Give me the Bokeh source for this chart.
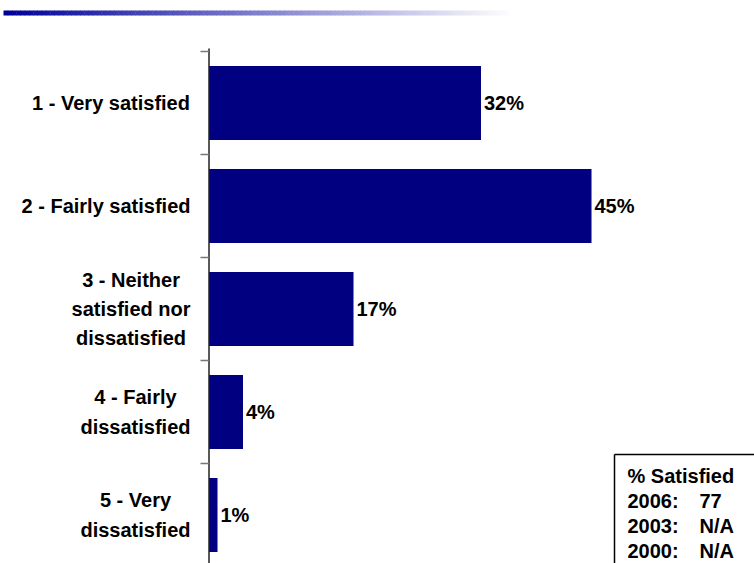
from bokeh.plotting import figure
from bokeh.models import Range1d, ColumnDataSource
from bokeh.core.properties import value
from bokeh.embed import file_html
from bokeh.resources import INLINE

# ---- data ----
categories = ["1 - Very satisfied", "2 - Fairly satisfied",
              "3 - Neither\nsatisfied nor\ndissatisfied",
              "4 - Fairly\ndissatisfied", "5 - Very\ndissatisfied"]
values = [32, 45, 17, 4, 1]
box_title = "% Satisfied"
box_years = ["2006:", "2003:", "2000:"]
box_values = ["77", "N/A", "N/A"]

# ---- layout helpers (pixel geometry) ----
W, H = 754, 563
AX0 = 208.5      # pixel of x = 0
PPU = 8.5        # pixels per percent
TOP = 51.0       # pixel of top band edge
BAND = 103.0     # pixels per category band
FONT = "Liberation Sans"
FS = 20


def px_x(px):
    return (px - AX0) / PPU


def px_y(py):
    return (py - TOP) / BAND - 0.5


AW = {' ': 278, '-': 333, 'V': 667, 'F': 611, 'N': 722, 'S': 667, 'A': 722,
      'a': 556, 'd': 611, 'e': 556, 'f': 333, 'h': 611, 'i': 278, 'l': 278,
      'n': 611, 'o': 611, 'r': 389, 's': 556, 't': 333, 'y': 556, '%': 889,
      ':': 333, '/': 278}


def text_w(s):
    return max(sum(AW.get(c, 556) for c in line) for line in s.split("\n")) * FS / 1000.0


p = figure(width=W, height=H, output_backend="svg", toolbar_location=None,
           x_range=Range1d(px_x(0), px_x(W)), y_range=Range1d(px_y(H), px_y(0)),
           x_axis_type=None, y_axis_type=None, min_border=0)
p.outline_line_color = None
p.grid.visible = False
p.background_fill_color = "white"
p.border_fill_color = "white"

# gradient rule at the top
n = 120
gx0, gx1 = 3, 513
lefts, rights, cols = [], [], []
for i in range(n):
    t = i / (n - 1)
    r = int(0 + (255 - 0) * t)
    g = int(0 + (255 - 0) * t)
    b = int(155 + (255 - 155) * t)
    lefts.append(px_x(gx0 + (gx1 - gx0) * i / n))
    rights.append(px_x(gx0 + (gx1 - gx0) * (i + 1) / n + 0.5))
    cols.append("#%02x%02x%02x" % (r, g, b))
p.quad(left=lefts, right=rights, top=px_y(10), bottom=px_y(15), fill_color=cols, line_color=None)

# bars
idx = list(range(len(categories)))
src = ColumnDataSource(dict(y=idx, v=values, lab=["%d%%" % v for v in values], cat=categories,
                            cx=[px_x(190 - text_w(c) / 2) for c in categories]))
p.hbar(y="y", right="v", left=0, height=0.72, source=src, fill_color="#000080", line_color=None)

# axis line and ticks
p.segment(x0=[0], y0=[px_y(48)], x1=[0], y1=[px_y(H + 5)], line_color="#222222", line_width=1.5)
bounds = [i - 0.5 for i in range(len(categories) + 1)]
p.segment(x0=[px_x(200)] * len(bounds), y0=bounds, x1=[0] * len(bounds), y1=bounds,
          line_color="#777777", line_width=1.5)

# value labels
p.text(x="v", y="y", text="lab", source=src, x_offset=3, text_baseline="middle",
       text_align="left", text_font=value(FONT), text_font_style="bold",
       text_font_size="%dpx" % FS, text_color="black")

# category labels
p.text(x="cx", y="y", text="cat", source=src, text_baseline="middle", text_align="center",
       text_font=value(FONT), text_font_style="bold", text_font_size="%dpx" % FS,
       text_color="black", text_line_height=1.33)

# summary box
p.segment(x0=[px_x(614), px_x(614)], y0=[px_y(454), px_y(454)],
          x1=[px_x(614), px_x(W + 5)], y1=[px_y(H + 5), px_y(454)],
          line_color="black", line_width=1.5)
p.text(x=[px_x(627)], y=[px_y(475)], text=[box_title], text_baseline="middle",
       text_font=value(FONT), text_font_style="bold", text_font_size="%dpx" % FS, text_color="black")
ys = [px_y(500 + 25 * i) for i in range(len(box_years))]
p.text(x=[px_x(627)] * len(box_years), y=ys, text=box_years, text_baseline="middle",
       text_font=value(FONT), text_font_style="bold", text_font_size="%dpx" % FS, text_color="black")
p.text(x=[px_x(699)] * len(box_values), y=ys, text=box_values, text_baseline="middle",
       text_font=value(FONT), text_font_style="bold", text_font_size="%dpx" % FS, text_color="black")

open("out.html", "w").write(file_html(p, INLINE))
